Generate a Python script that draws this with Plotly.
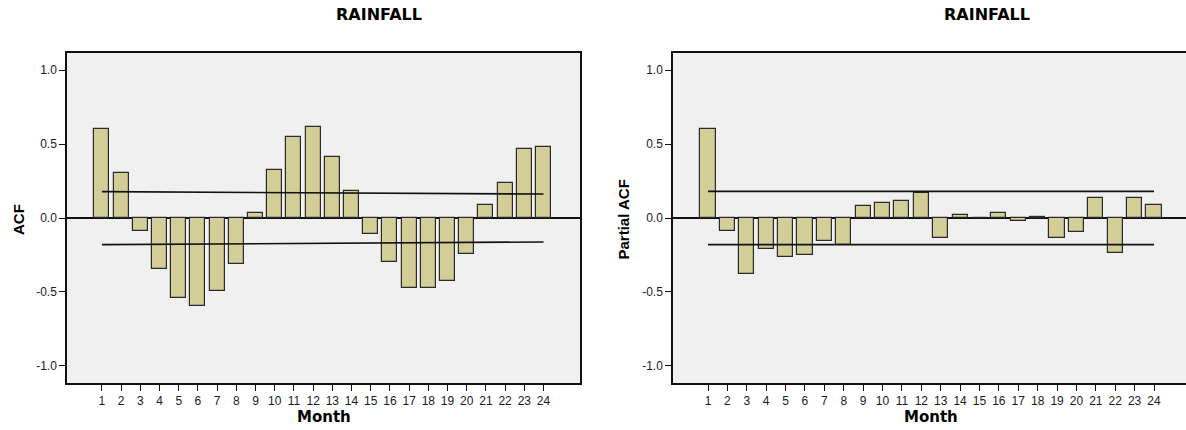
import plotly.graph_objects as go

lags = list(range(1, 25))
acf_values = [0.601, 0.307, -0.085, -0.344, -0.543, -0.597, -0.490, -0.308,
              0.032, 0.327, 0.545, 0.613, 0.412, 0.185, -0.108, -0.299,
              -0.470, -0.470, -0.426, -0.243, 0.090, 0.239, 0.464, 0.478]
pacf_values = [0.601, -0.088, -0.376, -0.207, -0.264, -0.252, -0.153, -0.180,
               0.079, 0.099, 0.115, 0.172, -0.132, 0.018, 0.002, 0.032,
               -0.018, 0.010, -0.137, -0.095, 0.135, -0.239, 0.135, 0.086]
acf_limit_lags = [1, 24]
acf_upper = [0.178, 0.162]
acf_lower = [-0.180, -0.162]
pacf_upper = [0.180, 0.180]
pacf_lower = [-0.180, -0.180]
y_ticks = [1.0, 0.5, 0.0, -0.5, -1.0]
y_ticklabels = ["1.0", "0.5", "0.0", "-0.5", "-1.0"]
title_text = "RAINFALL"
x_title = "Month"
y_titles = ["ACF", "Partial ACF"]

W, H = 1186, 430
BAR_FILL = "rgb(211,206,151)"
BAR_LINE = "#2a2a2a"

fig = go.Figure()

def add_panel(xa, ya, values, upper, lower):
    fig.add_trace(go.Bar(x=lags, y=values, width=0.78, xaxis=xa, yaxis=ya,
                         marker=dict(color=BAR_FILL, line=dict(color=BAR_LINE, width=1.2)),
                         showlegend=False, hoverinfo="x+y"))
    fig.add_trace(go.Scatter(x=acf_limit_lags, y=upper, mode="lines", xaxis=xa, yaxis=ya,
                             line=dict(color="#111", width=1.6), showlegend=False))
    fig.add_trace(go.Scatter(x=acf_limit_lags, y=lower, mode="lines", xaxis=xa, yaxis=ya,
                             line=dict(color="#111", width=1.6), showlegend=False))

add_panel("x", "y", acf_values, acf_upper, acf_lower)
add_panel("x2", "y2", pacf_values, pacf_upper, pacf_lower)

ydom = [(H - 383) / H, (H - 53) / H]
tickfont = dict(family="Liberation Sans", size=12, color="#1a1a1a")

xcommon = dict(tickmode="array", tickvals=lags, ticktext=[str(v) for v in lags],
               ticks="outside", ticklen=6, tickwidth=1.2, tickcolor="#111",
               showgrid=False, zeroline=False, showline=True, linecolor="#111",
               linewidth=1.5, mirror=True, tickfont=tickfont, fixedrange=True)
ycommon = dict(tickmode="array", tickvals=y_ticks, ticktext=y_ticklabels,
               ticks="outside", ticklen=6, tickwidth=1.2, tickcolor="#111",
               showgrid=False, zeroline=True, zerolinecolor="#111", zerolinewidth=1.6,
               showline=True, linecolor="#111", linewidth=1.5,
               range=[-1.115, 1.115], domain=ydom, tickfont=tickfont, fixedrange=True)

fig.update_layout(
    width=W, height=H,
    margin=dict(l=0, r=0, t=0, b=0),
    paper_bgcolor="white",
    plot_bgcolor="#F0F0F0",
    bargap=0,
    font=dict(family="Liberation Sans"),
    xaxis=dict(**xcommon, domain=[67 / W, 580 / W], range=[-0.82, 25.9], anchor="y"),
    yaxis=dict(**ycommon, anchor="x", mirror=True),
    xaxis2=dict(**xcommon, domain=[673 / W, 1.0], range=[-0.805, 25.65], anchor="y2"),
    yaxis2=dict(**ycommon, anchor="x2", mirror=False),
    showlegend=False,
)

title_font = dict(family="DejaVu Sans", size=16, color="black", weight="bold")
month_font = dict(family="DejaVu Sans", size=15, color="black", weight="bold")
ytitle_font = dict(family="Liberation Sans", size=15, color="black", weight="bold")

ann = []
for cx in (379, 987):
    ann.append(dict(text=title_text, x=cx / W, y=(H - 15) / H, xref="paper", yref="paper",
                    showarrow=False, font=title_font, xanchor="center", yanchor="middle"))
for cx in (324, 931):
    ann.append(dict(text=x_title, x=cx / W, y=(H - 417) / H, xref="paper", yref="paper",
                    showarrow=False, font=month_font, xanchor="center", yanchor="middle"))
for cx, t in zip((18, 622.5), y_titles):
    ann.append(dict(text=t, x=cx / W, y=(H - 220) / H, xref="paper", yref="paper",
                    showarrow=False, font=ytitle_font, textangle=-90,
                    xanchor="center", yanchor="middle"))
fig.update_layout(annotations=ann)

fig.write_html("out.html")
